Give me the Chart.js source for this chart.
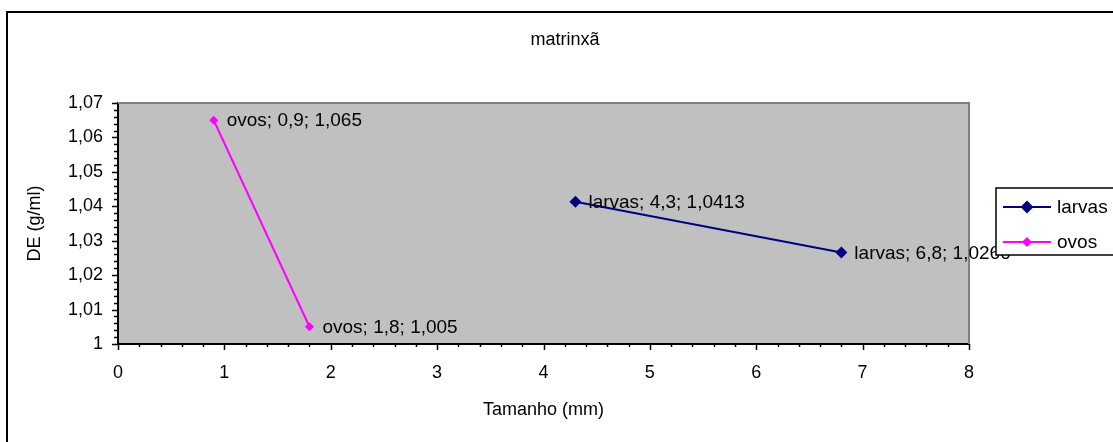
<!DOCTYPE html>
<html>
<head>
<meta charset="utf-8">
<title>matrinxã</title>
<script src="https://cdn.jsdelivr.net/npm/chart.js"></script>
<style>
  body { margin: 0; background: #fff; }
  canvas { display: block; }
</style>
</head>
<body>
<canvas id="chart" width="1113" height="442"></canvas>
<script>
// data
var chartTitle = 'matrinxã';
var xTitle = 'Tamanho (mm)';
var yTitle = 'DE (g/ml)';

var seriesNames = ['larvas', 'ovos'];
var larvasX = [4.3, 6.8];
var larvasY = [1.0413, 1.0266];
var ovosX = [0.9, 1.8];
var ovosY = [1.065, 1.005];

var xMin = 0, xMax = 8, xStep = 1, xMinor = 0.2;
var yMin = 1, yMax = 1.07, yStep = 0.01, yMinor = 0.002;

var FONT = "'Liberation Sans', Arial, sans-serif";

function toPoints(xs, ys) {
  return xs.map(function(x, i) { return { x: x, y: ys[i] }; });
}

function comma(v) {
  return String(v).replace('.', ',');
}

function diamond(ctx, x, y, r, color) {
  ctx.beginPath();
  ctx.moveTo(x, y - r);
  ctx.lineTo(x + r, y);
  ctx.lineTo(x, y + r);
  ctx.lineTo(x - r, y);
  ctx.closePath();
  ctx.fillStyle = color;
  ctx.fill();
}

// background, gray plot area, outer frame
var backdrop = {
  id: 'backdrop',
  beforeDraw: function(chart) {
    var ctx = chart.ctx, a = chart.chartArea;
    ctx.save();
    ctx.fillStyle = '#fff';
    ctx.fillRect(0, 0, chart.width, chart.height);
    ctx.fillStyle = '#C0C0C0';
    ctx.fillRect(a.left, a.top, a.right - a.left, a.bottom - a.top);
    ctx.strokeStyle = '#000';
    ctx.lineWidth = 2;
    ctx.strokeRect(7, 12, chart.width + 20, chart.height + 20);
    ctx.restore();
  },
  beforeDatasetsDraw: function(chart) {
    var ctx = chart.ctx, a = chart.chartArea;
    ctx.save();
    // top and right edge of plot area
    ctx.strokeStyle = '#808080';
    ctx.lineWidth = 2;
    ctx.beginPath();
    ctx.moveTo(a.left, a.top);
    ctx.lineTo(a.right, a.top);
    ctx.lineTo(a.right, a.bottom);
    ctx.stroke();

    // major and minor tick marks
    var xs = chart.scales.x, ys = chart.scales.y;
    ctx.strokeStyle = '#000';
    ctx.lineWidth = 1.5;
    ctx.beginPath();
    var n = Math.round((xMax - xMin) / xMinor);
    for (var i = 0; i <= n; i++) {
      var px = Math.round(xs.getPixelForValue(xMin + i * xMinor)) + 0.5;
      var len = (i % 5 === 0) ? 6 : 3;
      ctx.moveTo(px, a.bottom);
      ctx.lineTo(px, a.bottom + len);
    }
    n = Math.round((yMax - yMin) / yMinor);
    for (var j = 0; j <= n; j++) {
      var py = Math.round(ys.getPixelForValue(yMin + j * yMinor)) + 0.5;
      var l2 = (j % 5 === 0) ? 6 : 4;
      ctx.moveTo(a.left, py);
      ctx.lineTo(a.left - l2, py);
    }
    ctx.stroke();
    ctx.restore();
  },
  afterDatasetsDraw: function(chart) {
    var ctx = chart.ctx;
    ctx.save();
    ctx.font = '19px ' + FONT;
    ctx.fillStyle = '#000';
    ctx.textBaseline = 'middle';

    // data labels "serie; x; y"
    chart.data.datasets.forEach(function(ds, di) {
      var meta = chart.getDatasetMeta(di);
      ds.data.forEach(function(p, i) {
        var el = meta.data[i];
        ctx.textAlign = 'left';
        ctx.fillText(ds.label + '; ' + comma(p.x) + '; ' + comma(p.y), el.x + 13, el.y + 1);
      });
    });

    // chart title
    ctx.font = '18px ' + FONT;
    ctx.textAlign = 'center';
    ctx.fillText(chartTitle, 565, 40);

    // legend box
    var lx = 996, ly = 188, lh = 67;
    ctx.fillStyle = '#fff';
    ctx.fillRect(lx, ly, 140, lh);
    ctx.strokeStyle = '#000';
    ctx.lineWidth = 1.5;
    ctx.strokeRect(lx, ly, 140, lh);
    ctx.font = '19px ' + FONT;
    chart.data.datasets.forEach(function(ds, di) {
      var y = ly + 19 + di * 35;
      ctx.strokeStyle = ds.borderColor;
      ctx.lineWidth = 2;
      ctx.beginPath();
      ctx.moveTo(1003, y);
      ctx.lineTo(1051, y);
      ctx.stroke();
      diamond(ctx, 1027, y, ds.pointRadius + 0.5, ds.borderColor);
      ctx.fillStyle = '#000';
      ctx.textAlign = 'left';
      ctx.fillText(ds.label, 1057, y + 1);
    });
    ctx.restore();
  }
};

Chart.defaults.font.family = FONT;
Chart.defaults.font.size = 18;
Chart.defaults.color = '#000';

var ctx = document.getElementById('chart').getContext('2d');
var myChart = new Chart(ctx, {
  type: 'scatter',
  data: {
    datasets: [{
      label: seriesNames[0],
      data: toPoints(larvasX, larvasY),
      showLine: true,
      borderColor: '#000080',
      backgroundColor: '#000080',
      borderWidth: 2,
      pointStyle: 'rectRot',
      pointRadius: 6,
      pointBorderWidth: 0
    }, {
      label: seriesNames[1],
      data: toPoints(ovosX, ovosY),
      showLine: true,
      borderColor: '#FF00FF',
      backgroundColor: '#FF00FF',
      borderWidth: 2,
      pointStyle: 'rectRot',
      pointRadius: 4.5,
      pointBorderWidth: 0
    }]
  },
  options: {
    responsive: false,
    animation: false,
    devicePixelRatio: 1,
    layout: { padding: { top: 103, right: 144, left: 0, bottom: 0 } },
    plugins: {
      legend: { display: false },
      tooltip: { enabled: false }
    },
    scales: {
      x: {
        type: 'linear',
        min: xMin,
        max: xMax,
        afterFit: function(s) { s.height = 98; },
        grid: { display: false, drawTicks: false },
        border: { display: true, color: '#000', width: 2 },
        ticks: {
          stepSize: xStep,
          padding: 18,
          maxRotation: 0,
          callback: function(v) { return comma(v); }
        },
        title: {
          display: true,
          text: xTitle,
          font: { size: 18 },
          padding: { top: 0, bottom: 21 }
        }
      },
      y: {
        type: 'linear',
        min: yMin,
        max: yMax,
        afterFit: function(s) { s.width = 118; },
        grid: { display: false, drawTicks: false },
        border: { display: true, color: '#000', width: 2 },
        ticks: {
          stepSize: yStep,
          padding: 15,
          callback: function(v) { return comma(Number(v.toFixed(2))); }
        },
        title: {
          display: true,
          text: yTitle,
          font: { size: 18 },
          padding: { top: 24, bottom: 0 }
        }
      }
    }
  },
  plugins: [backdrop]
});
</script>
</body>
</html>
